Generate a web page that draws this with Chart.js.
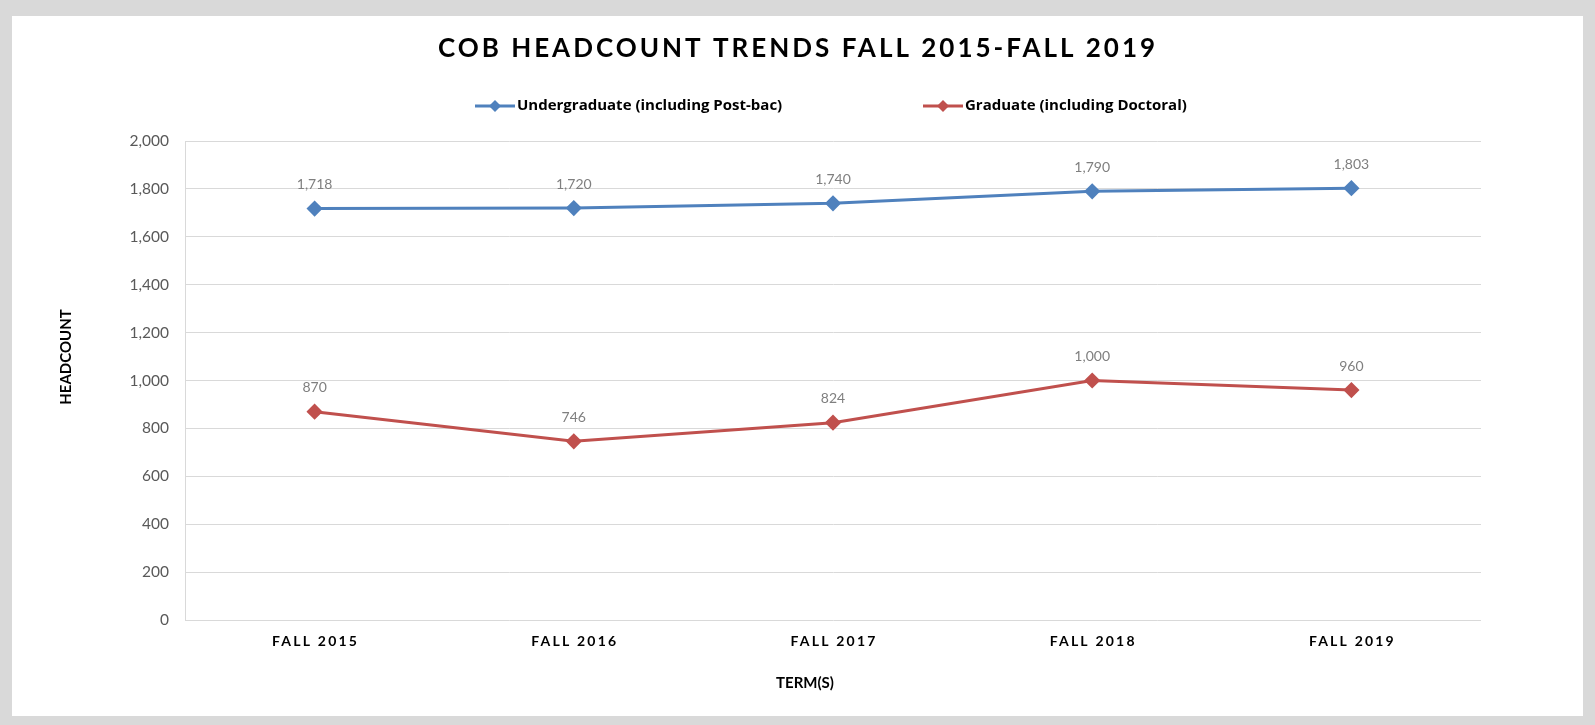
<!DOCTYPE html>
<html>
<head>
<meta charset="utf-8">
<script src="https://cdn.jsdelivr.net/npm/chart.js@4/dist/chart.umd.min.js"></script>
<style>
  html, body { margin: 0; padding: 0; background: #d9d9d9; }
  #frame { position: absolute; left: 0; top: 0; width: 1595px; height: 725px; }
  #panel { position: absolute; left: 12px; top: 16px; width: 1571px; height: 700px; background: #fff; }
  #chart { position: absolute; left: 0; top: 0; }
</style>
</head>
<body>
<div id="frame">
  <div id="panel"></div>
  <canvas id="chart" width="1595" height="725"></canvas>
</div>
<script>
const TERMS = ["FALL 2015", "FALL 2016", "FALL 2017", "FALL 2018", "FALL 2019"];
const UNDERGRAD = [1718, 1720, 1740, 1790, 1803];
const GRADUATE = [870, 746, 824, 1000, 960];
const Y_TICKS = [0, 200, 400, 600, 800, 1000, 1200, 1400, 1600, 1800, 2000];

const TITLE = "COB HEADCOUNT TRENDS FALL 2015-FALL 2019";
const X_TITLE = "TERM(S)";
const Y_TITLE = "HEADCOUNT";
const FONT = "Lato, 'Open Sans', sans-serif";
const LEGEND_FONT = "'Open Sans', Lato, sans-serif";

const fmt = (v) => v.toLocaleString("en-US");

// title, legend, axis titles, x labels and point labels
const textPlugin = {
  id: "textPlugin",
  afterDraw(chart) {
    const ctx = chart.ctx;
    ctx.save();
    ctx.textBaseline = "middle";

    ctx.fillStyle = "#000";
    ctx.font = "bold 26px " + FONT;
    ctx.letterSpacing = "3px";
    ctx.textAlign = "center";
    ctx.fillText(TITLE, 798, 49);

    // legend
    ctx.letterSpacing = "0px";
    ctx.font = "bold 15px " + LEGEND_FONT;
    ctx.textAlign = "left";
    const legendX = [475, 923];
    chart.data.datasets.forEach((ds, i) => {
      const x = legendX[i], y = 106;
      ctx.strokeStyle = ds.borderColor;
      ctx.lineWidth = 3;
      ctx.beginPath();
      ctx.moveTo(x, y);
      ctx.lineTo(x + 40, y);
      ctx.stroke();
      ctx.fillStyle = ds.borderColor;
      ctx.beginPath();
      ctx.moveTo(x + 20, y - 6);
      ctx.lineTo(x + 26, y);
      ctx.lineTo(x + 20, y + 6);
      ctx.lineTo(x + 14, y);
      ctx.closePath();
      ctx.fill();
      ctx.fillStyle = "#000";
      ctx.fillText(ds.label, x + 42, y);
    });

    // x labels
    const xs = chart.scales.x;
    ctx.font = "bold 14px " + FONT;
    ctx.letterSpacing = "2.2px";
    ctx.textAlign = "center";
    TERMS.forEach((t, i) => {
      ctx.fillText(t, xs.getPixelForTick(i) + 1, 641);
    });

    // axis titles
    ctx.letterSpacing = "0px";
    ctx.font = "bold 15px " + FONT;
    ctx.fillText(X_TITLE, 805, 683);
    ctx.save();
    ctx.translate(66, 357);
    ctx.rotate(-Math.PI / 2);
    ctx.font = "bold 15px " + FONT;
    ctx.fillText(Y_TITLE, 0, 0);
    ctx.restore();

    // point labels
    ctx.font = "14px " + FONT;
    ctx.fillStyle = "#7f7f7f";
    chart.data.datasets.forEach((ds, i) => {
      chart.getDatasetMeta(i).data.forEach((pt, j) => {
        ctx.fillText(fmt(ds.data[j]), pt.x, pt.y - 24);
      });
    });
    ctx.restore();
  }
};

new Chart(document.getElementById("chart"), {
  type: "line",
  data: {
    labels: TERMS,
    datasets: [
      {
        label: "Undergraduate (including Post-bac)",
        data: UNDERGRAD,
        borderColor: "#4f81bd",
        backgroundColor: "#4f81bd",
        borderWidth: 3,
        pointStyle: "rectRot",
        pointRadius: 6,
        pointHoverRadius: 6,
        tension: 0,
      },
      {
        label: "Graduate (including Doctoral)",
        data: GRADUATE,
        borderColor: "#c0504d",
        backgroundColor: "#c0504d",
        borderWidth: 3,
        pointStyle: "rectRot",
        pointRadius: 6,
        pointHoverRadius: 6,
        tension: 0,
      },
    ],
  },
  options: {
    responsive: false,
    animation: false,
    events: [],
    layout: { padding: { left: 100, top: 141, right: 114, bottom: 65 } },
    plugins: { legend: { display: false }, title: { display: false }, tooltip: { enabled: false } },
    scales: {
      x: {
        type: "category",
        offset: true,
        grid: { display: false, drawTicks: false },
        border: { display: false },
        ticks: { display: false },
        afterFit: (s) => { s.height = 40; },
      },
      y: {
        min: 0,
        max: 2000,
        afterBuildTicks: (s) => { s.ticks = Y_TICKS.map((v) => ({ value: v })); },
        grid: { color: "#d9d9d9", lineWidth: 1, drawTicks: false },
        border: { color: "#d9d9d9", width: 1 },
        ticks: {
          padding: 16,
          color: "#595959",
          font: { family: FONT, size: 15.5 },
          callback: (v) => fmt(v),
        },
        afterFit: (s) => { s.width = 85; },
      },
    },
  },
  plugins: [textPlugin],
});
</script>
</body>
</html>
